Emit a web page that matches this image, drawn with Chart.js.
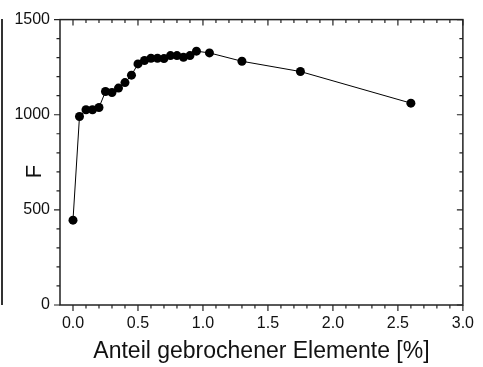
<!DOCTYPE html>
<html>
<head>
<meta charset="utf-8">
<script src="https://cdn.jsdelivr.net/npm/chart.js@4/dist/chart.umd.min.js"></script>
<style>
  html, body { margin: 0; padding: 0; background: #fff; }
  #wrap { position: relative; width: 483px; height: 367px; }
  #edge { position: absolute; left: 1px; top: 19px; width: 1.5px; height: 286px; background: #333; }
</style>
</head>
<body>
<div id="wrap">
  <canvas id="c" width="483" height="367"></canvas>
  <div id="edge"></div>
</div>
<script>
// Data
const brokenShare = [0.0, 0.05, 0.10, 0.15, 0.20, 0.25, 0.30, 0.35, 0.40, 0.45, 0.50, 0.55, 0.60, 0.65, 0.70, 0.75, 0.80, 0.85, 0.90, 0.95, 1.05, 1.30, 1.75, 2.60];
const fValues    = [446, 991, 1026, 1026, 1038, 1122, 1117, 1140, 1169, 1208, 1267, 1285, 1297, 1297, 1295, 1311, 1311, 1302, 1311, 1334, 1325, 1281, 1227, 1061];

const xTickValues = [0.0, 0.5, 1.0, 1.5, 2.0, 2.5, 3.0];
const yTickValues = [0, 500, 1000, 1500];
const xTitle = 'Anteil gebrochener Elemente [%]';
const yTitle = 'F';

const axisColor = '#222';
const fontFamily = '"Liberation Sans", Arial, Helvetica, sans-serif';

const framePlugin = {
  id: 'frame',
  afterDraw(chart) {
    const { ctx, chartArea: { left, right, top, bottom }, scales: { x, y } } = chart;
    ctx.save();
    ctx.strokeStyle = axisColor;
    ctx.lineWidth = 1.5;
    ctx.strokeRect(left, top, right - left, bottom - top);
    ctx.lineWidth = 1.2;
    ctx.beginPath();
    // x ticks: major every 0.5, minor every 0.1
    for (let i = 0; i <= 30; i++) {
      const v = i / 10;
      const p = x.getPixelForValue(v);
      const L = (i % 5 === 0) ? 6 : 3.5;
      ctx.moveTo(p, bottom); ctx.lineTo(p, bottom + L);
      ctx.moveTo(p, top); ctx.lineTo(p, top + L);
    }
    // y ticks: major every 500, minor every 100
    for (let i = 0; i <= 15; i++) {
      const v = i * 100;
      const p = y.getPixelForValue(v);
      const L = (i % 5 === 0) ? 6 : 3.5;
      ctx.moveTo(left, p); ctx.lineTo(left - L, p);
      ctx.moveTo(right, p); ctx.lineTo(right - L, p);
    }
    ctx.stroke();
    ctx.restore();
  }
};

new Chart(document.getElementById('c'), {
  type: 'scatter',
  data: {
    datasets: [{
      data: brokenShare.map((v, i) => ({ x: v, y: fValues[i] })),
      showLine: true,
      borderColor: '#000',
      borderWidth: 1,
      backgroundColor: '#000',
      pointBackgroundColor: '#000',
      pointBorderColor: '#000',
      pointRadius: 4.5,
      pointBorderWidth: 0
    }]
  },
  options: {
    responsive: false,
    animation: false,
    devicePixelRatio: 1,
    layout: { padding: { top: 19, right: 13, left: 0, bottom: 0 } },
    plugins: { legend: { display: false }, tooltip: { enabled: false } },
    scales: {
      x: {
        type: 'linear',
        min: -0.1,
        max: 3.0,
        grid: { display: false, drawTicks: false },
        border: { display: false },
        afterBuildTicks: (s) => { s.ticks = xTickValues.map(v => ({ value: v })); },
        afterFit: (s) => { s.height = 62; },
        ticks: {
          color: '#111',
          font: { family: fontFamily, size: 16 },
          padding: 9,
          maxRotation: 0,
          callback: (v) => Number(v).toFixed(1)
        },
        title: {
          display: true,
          text: xTitle,
          color: '#111',
          font: { family: fontFamily, size: 23 },
          padding: { top: 0, bottom: 2 }
        }
      },
      y: {
        type: 'linear',
        min: 0,
        max: 1500,
        grid: { display: false, drawTicks: false },
        border: { display: false },
        afterBuildTicks: (s) => { s.ticks = yTickValues.map(v => ({ value: v })); },
        afterFit: (s) => { s.width = 60; },
        ticks: {
          color: '#111',
          font: { family: fontFamily, size: 16 },
          padding: 10,
          callback: (v) => String(v)
        },
        title: {
          display: true,
          text: yTitle + '   ',
          color: '#111',
          font: { family: fontFamily, size: 22 },
          padding: { top: 22, bottom: 0 }
        }
      }
    }
  },
  plugins: [framePlugin]
});
</script>
</body>
</html>
